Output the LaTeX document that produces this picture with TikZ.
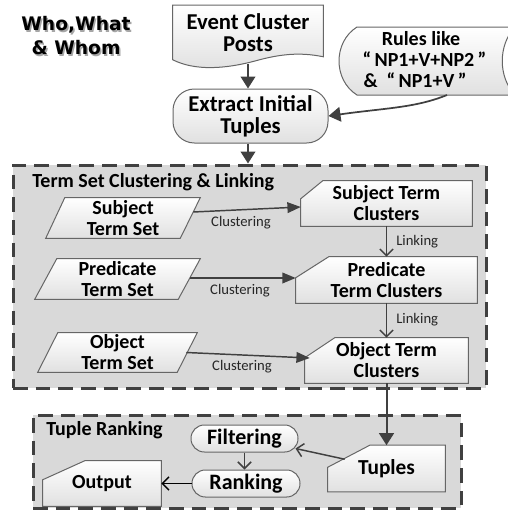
\documentclass[tikz,border=0pt]{standalone}
\usepackage{fontspec}
\setmainfont{Carlito}
\newfontfamily\whofont{DejaVu Sans}
\usetikzlibrary{arrows.meta,calc}
\pgfdeclarelayer{grp}
\pgfdeclarelayer{bg}
\pgfsetlayers{grp,bg,main}
\tikzset{
  box/.style 2 args={rectangle, inner sep=0pt, minimum width=#1*0.75pt, minimum height=#2*0.75pt},
  lbl/.style={align=center, font=\fontsize{15}{15.75}\selectfont\bfseries},
  big/.style={font=\fontsize{17}{16.5}\selectfont\bfseries},
  mid/.style={font=\fontsize{16.5}{16.5}\selectfont\bfseries},
  small/.style={inner sep=0pt, font=\fontsize{11}{13}\selectfont, text=black!85},
  shp/.style={draw=black!60, line width=0.75pt, top color=white, bottom color=black!12},
  grpbox/.style={draw=black!75, line width=2.25pt, fill=black!15, dash pattern=on 11pt off 6pt},
  fat/.style={draw=black!75, line width=1.5pt, -{Triangle[length=9pt,width=11pt]}},
  clus/.style={draw=black!75, line width=1.1pt, -{Triangle[length=10pt,width=8pt]}},
  thin/.style={draw=black!75, line width=1.1pt, -{Straight Barb[length=5pt,width=10pt]}},
  who/.style={inner sep=0pt, align=center, font=\whofont\fontsize{14}{18}\selectfont\bfseries},
}
\begin{document}
\begin{tikzpicture}[x=0.75pt,y=-0.75pt]
\useasboundingbox (0,0) rectangle (507,514);

% title
\node[who, text=black!35] (whoshadow) at (77.5,37.5) {Who,What\\\& Whom};
\node[who] (who) at (76,36) {Who,What\\\& Whom};

% group boxes
\begin{pgfonlayer}{grp}
\node[grpbox, box={473}{223}] (grp1) at (249.5,276.5) {};
\node[grpbox, box={428}{93}] (grp2) at (247,461.5) {};
\end{pgfonlayer}
\node[lbl, anchor=base west, inner sep=0pt] (grp1t) at (32,187) {Term Set Clustering \& Linking};
\node[lbl, anchor=base west, inner sep=0pt] (grp2t) at (46,435) {Tuple Ranking};

% event cluster posts (document)
\node[lbl, big, box={150}{55}] (event) at (248,33) {Event Cluster\\Posts};
\begin{pgfonlayer}{bg}
\path[shp] (event.north west) -- (event.north east) -- ($(event.south east)+(0,-4)$)
  .. controls (300,52) and (280,54) .. (255,61)
  .. controls (225,69) and (195,71) .. ($(event.south west)+(0,-1)$) -- cycle;
\end{pgfonlayer}

% extract initial tuples
\node[lbl, big, box={155}{54}, shp, rounded corners=16pt] (extract) at (250.5,116) {Extract Initial\\Tuples};

% rules (stored data)
\node[lbl] (rules) at (421,60) {Rules like\\\hspace{0.35em}“\,NP1+V+NP2\,”\\\hspace{-0.6em}\&\hspace{0.45em}“\,NP1+V\,”};
\coordinate (rulesout) at (447,95);
\begin{pgfonlayer}{bg}
\path[shp] (357,27) -- (515,27) .. controls (498,45) and (498,77) .. (515,95)
  -- (357,95) .. controls (333,80) and (333,42) .. (357,27) -- cycle;
\end{pgfonlayer}

% term sets (parallelograms)
\node[lbl, box={154}{40}] (sset) at (123,218) {Subject\\Term Set};
\node[lbl, box={165}{40}] (pset) at (117.5,279) {Predicate\\Term Set};
\node[lbl, box={159}{39}] (oset) at (117.5,352.5) {Object\\Term Set};
\begin{pgfonlayer}{bg}
\path[shp] ($(sset.north west)+(19,0)$) -- (sset.north east) -- ($(sset.south east)+(-20,0)$) -- (sset.south west) -- cycle;
\path[shp] ($(pset.north west)+(22,0)$) -- (pset.north east) -- ($(pset.south east)+(-22,0)$) -- (pset.south west) -- cycle;
\path[shp] ($(oset.north west)+(20,0)$) -- (oset.north east) -- ($(oset.south east)+(-20,0)$) -- (oset.south west) -- cycle;
\end{pgfonlayer}

% term clusters (cards)
\node[lbl, box={171}{45}] (stc) at (386.5,203.5) {Subject Term\\Clusters};
\node[lbl, box={181}{46}] (ptc) at (386.5,280) {Predicate\\Term Clusters};
\node[lbl, box={163}{45}] (otc) at (386.5,360.5) {Object Term\\Clusters};
\begin{pgfonlayer}{bg}
\path[shp] ($(stc.north west)+(22,0)$) -- (stc.north east) -- (stc.south east) -- (stc.south west) -- ($(stc.north west)+(0,18)$) -- cycle;
\path[shp] ($(ptc.north west)+(33,0)$) -- (ptc.north east) -- (ptc.south east) -- (ptc.south west) -- ($(ptc.north west)+(0,21)$) -- cycle;
\path[shp] ($(otc.north west)+(30,0)$) -- (otc.north east) -- (otc.south east) -- (otc.south west) -- ($(otc.north west)+(0,20)$) -- cycle;
\end{pgfonlayer}

% tuple ranking
\node[lbl, mid, box={107}{27}, shp, rounded corners=10pt] (filt) at (244.5,438.5) {Filtering};
\node[lbl, mid, box={108}{27}, shp, rounded corners=10pt] (rank) at (246,483.5) {Ranking};
\node[lbl, font=\fontsize{16}{16}\selectfont\bfseries, box={117}{46}] (tup) at (386.5,468.5) {Tuples};
\node[lbl, box={118}{45}] (out) at (102,483.5) {Output};
\begin{pgfonlayer}{bg}
\path[shp] ($(tup.north west)+(42,0)$) -- (tup.north east) -- (tup.south east) -- (tup.south west) -- ($(tup.north west)+(0,22)$) -- cycle;
\path[shp] ($(out.north west)+(42,0)$) -- (out.north east) -- (out.south east) -- (out.south west) -- ($(out.north west)+(0,19)$) -- cycle;
\end{pgfonlayer}

% connectors
\draw[fat] ($(event.south)+(0,3)$) -- (event.south |- extract.north);
\draw[fat, line width=1.3pt] (rulesout) .. controls (415,108) and (385,108) .. (extract.east);
\draw[fat] (event.south |- extract.south) -- (event.south |- grp1.north);

\draw[clus] ($(sset.east)+(-7,-6)$) -- ($(stc.west)+(0,3.5)$);
\draw[clus] ($(pset.east)+(-10,-1)$) -- ($(ptc.west)+(0,-2)$);
\draw[clus] ($(oset.east)+(-11,0)$) -- ($(otc.west)+(5,-2.5)$);
\node[small] (cl1) at (241,223) {Clustering};
\node[small] (cl2) at (240,291) {Clustering};
\node[small] (cl3) at (242,367) {Clustering};

\draw[thin] (stc.south) -- (ptc.north);
\draw[thin] (ptc.south) -- (otc.north);
\node[small, anchor=west] (lk1) at (396,242) {Linking};
\node[small, anchor=west] (lk2) at (396,320) {Linking};

\draw[fat] (otc.south) -- (tup.north);
\draw[thin] ($(tup.north west)+(17,14)$) -- ($(filt.east)+(-3,10)$);
\draw[thin] (filt.south) -- (filt.south |- rank.north);
\draw[thin, draw=black] (rank.west) -- (out.east);
\end{tikzpicture}
\end{document}
